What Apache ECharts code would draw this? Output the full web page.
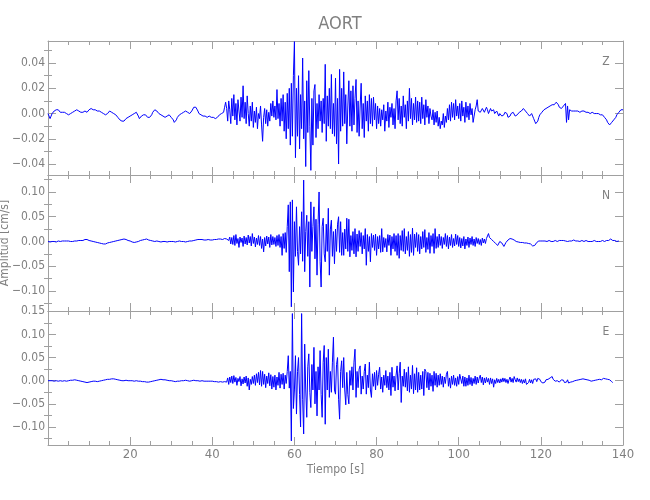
<!DOCTYPE html>
<html>
<head>
<meta charset="utf-8">
<script src="https://cdn.jsdelivr.net/npm/echarts@6/dist/echarts.min.js"></script>
<style>html,body{margin:0;padding:0;background:#fff}#c{width:650px;height:500px}</style>
</head>
<body>
<div id="c"></div>
<script>
// Sampling step of the traces (s) and amplitude unit of the arrays (values are in 0.001 cm/s)
const dt = 0.25;
const unit = 0.001;

// Z component, 0.001 cm/s, t = 0, 0.25, ... 140
const zValues = [
0,-2,-4,-2,0,1,2,2,3,2,3,2,1,2,1,0,1,0,0,-1,
-1,-1,0,1,1,2,2,3,3,2,2,1,1,1,1,2,2,2,1,2,
3,3,4,4,3,3,3,2,2,2,2,1,1,0,0,-1,-1,0,0,1,
2,2,1,1,0,0,-1,-2,-3,-4,-5,-6,-6,-7,-6,-5,-4,-4,-3,-3,
-2,-2,-1,0,0,1,1,0,-2,-4,-3,-2,-2,-1,-1,-1,-2,-3,-4,-3,
-2,-1,1,2,3,3,2,1,0,-1,-1,-2,-2,-3,-3,-2,-2,-1,-1,-2,
-3,-4,-5,-7,-6,-5,-3,-2,-1,0,0,1,1,2,2,1,1,0,0,1,
2,3,5,6,5,4,2,0,-1,-1,-1,-2,-2,-2,-3,-3,-2,-2,-2,-3,
-3,-3,-4,-4,-4,-3,-2,-1,-1,0,0,1,5,9,4,-6,10,3,-8,12,
-2,15,-5,8,-9,11,2,-6,13,-3,22,-4,9,-8,14,0,-10,6,-6,9,
-11,2,-7,5,-12,0,-4,6,-9,-22,-3,4,-8,3,-10,1,-6,8,-2,10,
-3,6,-5,19,-4,8,-10,12,-6,15,-14,9,-20,16,-12,20,-25,24,-18,30,
57,-35,20,-18,30,-28,15,-12,44,-20,10,-42,26,-15,34,-10,-45,12,-25,18,
23,-19,8,-12,15,-6,10,-15,12,-8,39,-22,14,-10,20,-12,31,-16,8,-18,
28,-24,12,-40,35,-14,20,-10,33,-8,15,-24,6,26,-10,18,-14,22,-9,12,
27,-15,10,-18,6,24,-12,8,-19,14,-6,10,-14,15,-8,12,-10,13,-5,8,
-12,6,-8,4,-10,3,-5,7,-14,2,-6,9,-11,5,-3,8,-9,4,-12,10,
18,-5,12,-8,6,-10,14,-3,7,-12,10,-6,20,-4,12,-9,8,-5,13,-7,
10,-6,9,-8,13,-4,7,-9,11,-3,6,-8,4,-2,-5,3,-9,1,-7,2,
-10,-3,-12,-6,-9,0,-11,-2,-7,4,-5,7,-6,9,-3,8,-5,11,-2,6,
-4,8,-6,10,-2,5,-7,9,-3,6,-5,8,-1,4,-7,-2,3,6,11,2,
3,1,2,4,3,1,2,5,3,0,2,4,2,1,3,0,-1,2,1,-2,
0,1,-2,-3,-1,1,2,0,-3,-4,-2,0,-1,1,0,-2,-3,-1,0,1,
1,2,3,4,3,2,1,0,-1,-2,-1,0,-2,-4,-6,-8,-9,-6,-3,-1,
0,1,2,3,3,4,4,5,5,6,6,7,8,7,8,9,8,7,5,4,
4,5,6,5,8,-7,6,-5,3,4,2,3,2,1,2,1,2,2,1,2,
2,1,2,1,1,2,1,1,0,1,1,0,0,1,0,-1,0,-1,-1,0,
-1,-2,-3,-4,-5,-7,-8,-9,-8,-7,-6,-5,-4,-3,-1,0,1,2,3,2,
3
];

// N component, 0.001 cm/s, t = 0 ... 139
const nValues = [
0,0,-1,0,0,1,0,0,-1,0,1,0,0,1,1,0,1,2,1,2,
1,1,0,1,0,0,1,0,1,1,2,1,2,3,2,3,4,5,4,3,
2,2,1,1,0,0,-1,-1,-2,-2,-3,-3,-4,-4,-5,-4,-5,-4,-3,-3,
-2,-2,-1,-1,0,0,1,1,2,2,3,3,4,4,5,4,4,3,2,1,
1,0,-1,-1,-2,-1,-1,0,0,1,2,2,3,3,4,4,5,4,3,3,
2,2,1,1,0,0,1,1,0,0,-1,0,0,1,0,0,-1,0,0,1,
0,1,0,0,-1,0,0,1,1,0,0,1,0,0,-1,-1,0,0,1,0,
1,2,2,3,3,4,4,5,4,5,4,4,3,4,3,3,4,3,3,4,
3,4,4,3,4,4,5,4,5,5,4,5,6,5,5,6,2,9,-5,8,
-6,12,-8,14,-4,6,-12,9,-2,7,-10,11,-5,8,-7,13,-3,10,-9,16,
-4,9,-11,7,-6,12,-8,10,-14,5,-21,8,-9,11,-5,9,-12,14,-7,10,
-6,8,-10,12,-8,14,-12,10,-28,16,-14,18,-22,30,74,-61,80,-132,84,-102,
40,-30,70,-20,-48,30,-25,60,-40,124,-61,20,53,-30,40,-92,80,-20,30,70,
-35,45,-68,35,100,-40,-92,30,47,-25,-41,35,-20,67,-68,25,43,-30,20,-45,
25,-20,35,50,-22,40,-28,18,-28,25,-15,47,-20,45,-31,12,-18,20,-25,26,
-31,15,-20,22,-10,18,-25,12,-15,26,-48,14,-20,10,-41,16,-12,13,-18,15,
-28,10,-15,12,-22,26,-21,8,-12,6,-21,14,-8,13,-28,10,-15,16,-20,12,
-28,16,-34,12,-18,22,-20,26,-25,10,-18,20,-30,14,-22,27,-28,15,-12,18,
-20,14,-25,10,-15,20,-12,24,-22,8,-16,18,-24,12,-10,16,-24,26,-14,10,
-12,15,-8,10,-14,8,-6,16,-10,12,-15,9,-8,14,-12,6,-9,15,-6,12,
-10,8,-13,6,-9,10,-15,5,-8,9,-12,7,-6,10,-8,5,-10,8,-4,6,
-6,4,-8,7,-3,5,-4,6,2,16,8,10,4,6,0,3,-4,-2,-8,-5,
0,2,-3,-7,-10,-6,-2,1,3,5,6,4,5,6,3,1,0,-2,-1,-3,
-2,-3,-2,-4,-3,-2,-3,-2,-4,-3,-5,-7,-9,-11,-8,-5,-2,0,1,0,
1,2,1,0,1,-1,0,1,2,1,0,-1,0,1,2,1,0,1,2,3,
2,1,2,0,1,-1,0,2,1,0,1,2,3,2,1,0,1,-1,0,1,
2,1,0,1,2,1,0,-1,0,1,0,1,2,1,0,-1,0,1,0,1,
2,1,0,1,2,3,2,4,5,3,2,1,2,1,0,1,1
];

// E component, 0.001 cm/s, t = 0 ... 137.5
const eValues = [
0,0,0,-1,0,0,-1,-1,0,0,-1,0,0,-1,-1,0,0,-1,-1,0,
0,0,1,1,1,2,2,1,1,0,0,-1,-1,-2,-2,-3,-3,-4,-4,-3,
-3,-2,-2,-1,-1,-2,-1,-1,-2,-1,-1,0,0,1,1,2,2,2,3,3,
3,4,4,5,4,4,3,2,2,1,1,0,0,1,0,0,1,0,0,0,
0,1,0,0,-1,0,0,-1,-1,-2,-1,-1,-2,-2,-2,-3,-3,-2,-3,-2,
-2,-1,-1,0,0,1,1,2,2,2,3,3,2,3,2,2,1,1,0,0,
0,-1,-1,-1,-2,-1,-1,0,-1,0,0,-1,0,0,1,0,0,0,-1,0,
0,0,1,0,0,-1,0,0,-1,0,0,-1,-1,0,-1,-1,-1,-2,-1,-1,
-1,-2,-2,-1,-2,-2,-3,-3,-2,-3,-3,-2,-2,-1,-3,6,-8,8,-4,10,
-6,11,-3,7,-10,5,-2,9,-11,4,-7,8,-5,10,-12,6,-20,3,-8,9,
-6,12,-10,15,-4,18,-9,22,-12,20,-8,14,-15,10,-6,17,-11,13,-18,9,
-14,12,-20,8,-10,18,-16,14,-8,16,-18,12,-6,20,54,-16,20,-130,145,-60,
-20,54,-72,20,50,-30,-100,145,-40,-115,79,-20,-79,30,58,-25,-58,35,-20,72,
-50,20,-76,30,-20,65,-30,-79,40,76,-94,50,-20,68,-36,20,-25,40,94,-20,
-29,35,50,-40,-83,20,43,-15,50,-20,-52,18,-30,-50,22,-10,30,-20,40,68,
-36,20,-15,25,32,-29,10,-18,20,36,-29,12,-15,40,-20,-36,15,-12,18,-20,
22,-10,14,29,-18,8,-25,12,-10,22,-15,10,-20,18,-32,29,-14,10,-22,12,
32,-20,15,40,-47,10,-12,25,-14,18,-22,30,-25,12,-18,33,-28,15,-20,28,
-25,18,-20,12,-18,20,-32,25,20,-15,18,-20,16,-12,12,-23,20,-10,16,-14,
12,-10,15,-8,10,-14,8,-6,14,20,-12,6,-16,10,-8,12,-10,6,-12,9,
-8,14,18,-6,10,-12,8,-12,6,-10,12,-8,7,-11,5,-6,10,-8,8,-5,
6,12,-4,8,-9,6,-5,7,-3,5,-8,6,-6,4,-14,2,-6,5,-4,3,
-5,4,-3,6,-2,5,-4,3,-6,2,8,-3,5,-4,9,2,-3,6,-2,4,
-4,3,-6,2,-5,4,-8,-10,-4,3,-5,2,-6,3,6,4,-2,5,1,3,
-2,1,-5,-8,-3,2,-1,3,5,6,4,9,3,5,-1,3,0,2,-3,1,
2,-2,1,-4,0,-3,2,-5,-8,-3,1,-2,2,0,3,1,4,2,5,3,
6,4,7,3,5,2,4,1,3,-1,2,0,3,1,4,2,5,3,6,2,
4,5,3,4,2,3,1,2,0,-2,-4
];

const panelNames = ['Z', 'N', 'E'];
const timeRange = [0, 140];
const timeStep = 20;
const yRanges = [[-0.0487, 0.0575], [-0.1404, 0.1343], [-0.1388, 0.1505]];
const yMajorTicks = [
  [-0.04, -0.02, 0, 0.02, 0.04],
  [-0.10, -0.05, 0, 0.05, 0.10],
  [-0.10, -0.05, 0, 0.05, 0.10, 0.15]
];
const yMinorTicks = [
  [-0.03, -0.01, 0.01, 0.03, 0.05],
  [-0.125, -0.075, -0.025, 0.025, 0.075, 0.125],
  [-0.125, -0.075, -0.025, 0.025, 0.075, 0.125]
];

const AX = '#a0a0a0';
const TXT = '#808080';
const FONT = "'Liberation Sans Narrow', 'DejaVu Sans Condensed', 'Roboto Condensed', sans-serif";
const gridTops = [41, 175, 311];
const gridHeights = [134, 136, 134];

const traces = [zValues, nValues, eValues];
const grids = [], xAxes = [], yAxes = [], series = [];

function fmt(v) {
  const s = Math.abs(v).toFixed(2);
  return (v < -1e-9 ? '\u2212' : '') + s;
}

for (let p = 0; p < 3; p++) {
  grids.push({ left: 48, width: 575, top: gridTops[p], height: gridHeights[p], outerBoundsMode: 'none', containLabel: false });
  ['bottom', 'top'].forEach(function (pos) {
    const showLab = (p === 2 && pos === 'bottom');
    xAxes.push({
      gridIndex: p, type: 'value', position: pos,
      min: timeRange[0], max: timeRange[1], interval: timeStep,
      axisLine: { show: true, onZero: false, lineStyle: { color: AX, width: 1 } },
      axisTick: { show: true, inside: true, length: 8, lineStyle: { color: AX, width: 1 } },
      minorTick: { show: true, splitNumber: 4, length: 4, lineStyle: { color: AX, width: 1 } },
      axisLabel: { show: showLab, margin: 3, color: TXT, fontSize: 13, fontFamily: FONT, showMinLabel: false, showMaxLabel: true },
      splitLine: { show: false },
      name: showLab ? 'Tiempo [s]' : '',
      nameLocation: 'middle', nameGap: 19, nameMoveOverlap: false,
      nameTextStyle: { color: TXT, fontSize: 12, fontFamily: FONT }
    });
  });
  ['left', 'right'].forEach(function (pos) {
    const isLeft = pos === 'left';
    yAxes.push({
      gridIndex: p, type: 'value', position: pos,
      min: yRanges[p][0], max: yRanges[p][1],
      axisLine: { show: true, onZero: false, lineStyle: { color: AX, width: 1 } },
      axisTick: { show: true, inside: true, length: 8, customValues: yMajorTicks[p], lineStyle: { color: AX, width: 1 } },
      axisLabel: { show: isLeft, customValues: yMajorTicks[p], formatter: fmt, margin: 3, color: TXT, fontSize: 12, fontFamily: FONT, showMinLabel: true, showMaxLabel: true },
      splitLine: { show: false },
      name: (isLeft && p === 1) ? 'Amplitud [cm/s]' : '',
      nameLocation: 'middle', nameGap: 37, nameMoveOverlap: false,
      nameTextStyle: { color: TXT, fontSize: 12, fontFamily: FONT }
    });
    yAxes.push({
      gridIndex: p, type: 'value', position: pos,
      min: yRanges[p][0], max: yRanges[p][1],
      axisLine: { show: false },
      axisTick: { show: true, inside: true, length: 4, customValues: yMinorTicks[p], lineStyle: { color: AX, width: 1 } },
      axisLabel: { show: false },
      splitLine: { show: false }
    });
  });
  series.push({
    type: 'line', xAxisIndex: 2 * p, yAxisIndex: 4 * p,
    data: traces[p].map(function (v, i) { return [i * dt, v * unit]; }),
    showSymbol: false, symbol: 'none', animation: false,
    lineStyle: { color: '#0000ff', width: 1 },
    z: 1
  });
}

const chart = echarts.init(document.getElementById('c'), null, { renderer: 'canvas' });
chart.setOption({
  backgroundColor: '#ffffff',
  animation: false,
  title: {
    text: 'AORT', left: 335, textAlign: 'center', top: 10,
    textStyle: { color: TXT, fontSize: 18, fontWeight: 'normal', fontFamily: FONT }
  },
  grid: grids, xAxis: xAxes, yAxis: yAxes, series: series,
  graphic: panelNames.map(function (name, p) {
    return {
      type: 'text', x: 606, y: gridTops[p] + 21, z: 10,
      style: { text: name, fill: TXT, font: '12px ' + FONT, align: 'center', verticalAlign: 'middle' }
    };
  })
});
</script>
</body>
</html>
